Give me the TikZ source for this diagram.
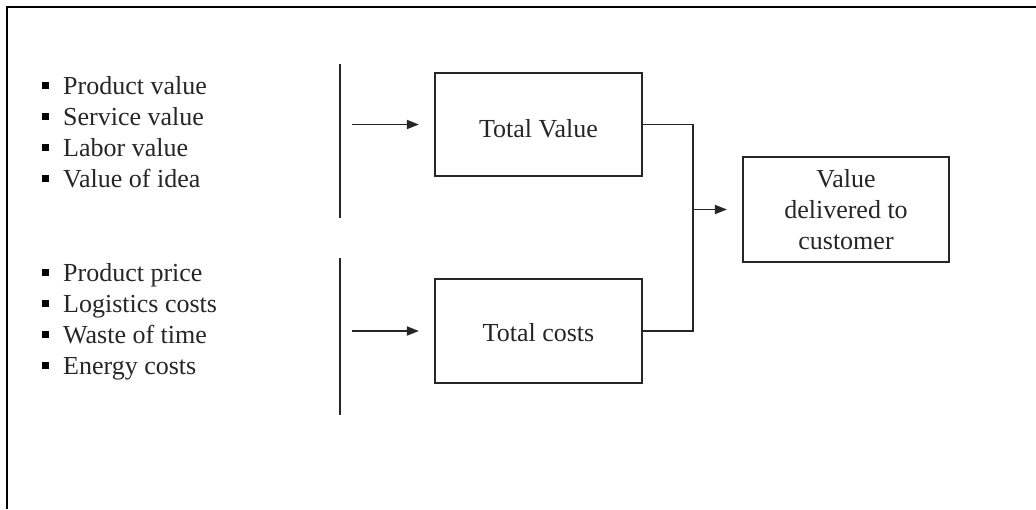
\documentclass[tikz,border=0pt]{standalone}
\usepackage{fontspec}
\setmainfont{Liberation Serif}
\usetikzlibrary{arrows.meta}
\definecolor{ink}{HTML}{262626}
\definecolor{txt}{HTML}{262626}
\begin{document}
\begin{tikzpicture}[x=1pt,y=-1pt,
  every node/.style={font=\fontsize{26}{31}\selectfont, text=txt},
  item/.style={anchor=west, inner sep=0pt, text height=0.7em, text depth=0.25em},
  blockbox/.style={draw=ink, line width=2.2pt, minimum width=207pt, inner sep=0pt, align=center},
  wire/.style={draw=ink, line width=1.8pt},
  feed/.style={wire, -{Triangle[length=12pt,width=9pt]}}]
  \useasboundingbox (0,0) rectangle (1036,509);
  % frame: top and left edges only
  \draw[line width=2.6pt, black] (1036,7) -- (7,7) -- (7,509);

  % input lists
  \foreach \y/\t [count=\i] in {92/Product value, 123/Service value, 154/Labor value, 185/Value of idea,
                                  279/Product price, 310/Logistics costs, 341/Waste of time, 372/Energy costs}
    \node[item] (it\i) at (42,\y) {\raisebox{5.5pt}{\color{black}\rule{7pt}{7pt}}\hspace{14pt}\t};

  % separator bars
  \coordinate (b1t) at (340,64);  \coordinate (b1b) at (340,218);
  \coordinate (b2t) at (340,258); \coordinate (b2b) at (340,415);
  \draw[wire] (b1t) -- (b1b);
  \draw[wire] (b2t) -- (b2b);

  % blocks
  \node[blockbox, minimum height=103pt, text height=25pt, text depth=0pt] (tv) at (538.5,124.5) {Total Value};
  \node[blockbox, minimum height=104pt, text height=21pt, text depth=0pt] (tc) at (538.5,331) {Total costs};
  \node[blockbox, minimum width=206pt, minimum height=105pt] (vd) at (846,209.5)
       {Value\\delivered to\\customer};

  % input arrows
  \coordinate (a1) at (352,124.5);
  \coordinate (a2) at (352,331);
  \draw[feed, shorten >=15pt] (a1) -- (tv.west);
  \draw[feed, shorten >=15pt] (a2) -- (tc.west);

  % merge into the result block
  \coordinate (j) at (693,209.5);
  \draw[wire] (tv.east) -| (j);
  \draw[wire] (tc.east) -| (j);
  \draw[feed, shorten >=15pt] (j) -- (vd.west);
\end{tikzpicture}
\end{document}
